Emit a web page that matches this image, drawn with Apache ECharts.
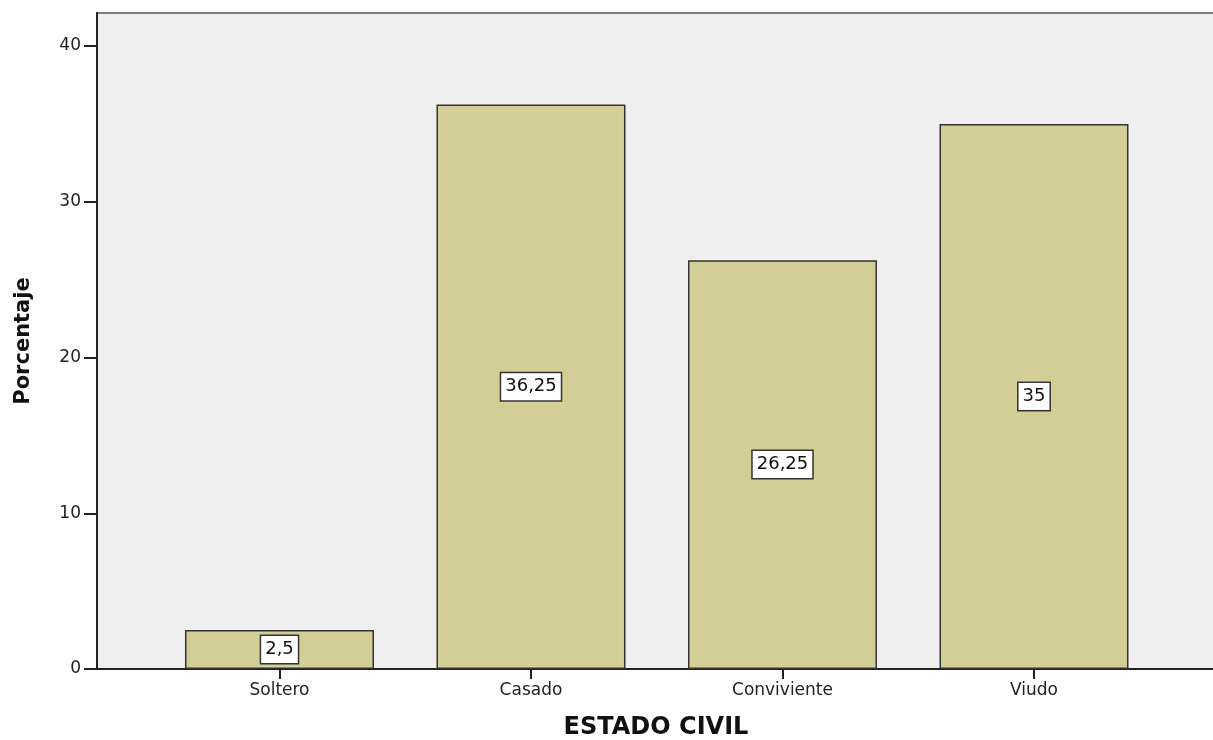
<!DOCTYPE html>
<html>
<head>
<meta charset="utf-8">
<script src="https://cdn.jsdelivr.net/npm/echarts@6/dist/echarts.min.js"></script>
<style>
  html, body { margin: 0; padding: 0; background: #ffffff; }
  #chart { width: 1213px; height: 740px; }
</style>
</head>
<body>
<div id="chart"></div>
<script>
// Estado civil de los encuestados (porcentaje)
const categories = ['Soltero', 'Casado', 'Conviviente', 'Viudo'];
const percentages = [2.5, 36.25, 26.25, 35];
const yTicks = [0, 10, 20, 30, 40];

const fmt = v => String(v).replace('.', ',');
const positions = categories.map((_, i) => i);
const FONT = 'DejaVu Sans, Liberation Sans, Arial, sans-serif';

const chart = echarts.init(document.getElementById('chart'), null, { renderer: 'canvas' });

chart.setOption({
  animation: false,
  textStyle: { fontFamily: FONT },
  grid: {
    left: 97, right: -2, top: 13, bottom: 71,
    containLabel: false,
    outerBoundsMode: 'none',
    show: true,
    backgroundColor: '#efefef',
    borderColor: '#808080',
    borderWidth: 2
  },
  xAxis: {
    type: 'value',
    min: -0.7256,
    max: 3.7197,
    name: 'ESTADO CIVIL',
    nameLocation: 'middle',
    nameGap: 47,
    nameTextStyle: { fontSize: 24, fontWeight: 'bold', color: '#111', fontFamily: FONT },
    splitLine: { show: false },
    axisLine: { show: true, onZero: false, lineStyle: { color: '#222', width: 2 } },
    axisTick: {
      show: true, length: 10, customValues: positions,
      lineStyle: { color: '#222', width: 2 }
    },
    axisLabel: {
      customValues: positions,
      formatter: v => categories[Math.round(v)],
      fontSize: 17, color: '#222', margin: 13
    }
  },
  yAxis: {
    type: 'value',
    min: 0,
    max: 42.12,
    name: 'Porcentaje',
    nameLocation: 'middle',
    nameGap: 63,
    nameTextStyle: { fontSize: 21, fontWeight: 'bold', color: '#111', fontFamily: FONT },
    splitLine: { show: false },
    axisLine: { show: true, onZero: false, lineStyle: { color: '#222', width: 2 } },
    axisTick: {
      show: true, length: 13, customValues: yTicks,
      lineStyle: { color: '#222', width: 2 }
    },
    axisLabel: {
      customValues: yTicks,
      fontSize: 17, color: '#222', margin: 16
    }
  },
  series: [{
    type: 'bar',
    data: percentages.map((v, i) => [i, v]),
    barWidth: 189,
    itemStyle: { color: '#d3ce98', borderColor: '#333', borderWidth: 1.5 },
    label: {
      show: true,
      position: 'inside',
      formatter: p => fmt(p.value[1]),
      fontSize: 18,
      color: '#111',
      backgroundColor: '#ffffff',
      borderColor: '#333',
      borderWidth: 1.5,
      padding: [5, 4, 4, 4]
    }
  }]
});
</script>
</body>
</html>
